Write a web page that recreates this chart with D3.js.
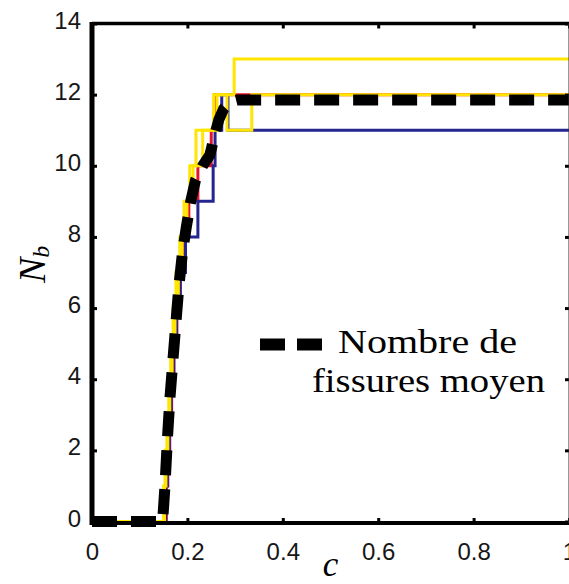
<!DOCTYPE html>
<html><head><meta charset="utf-8">
<script src="https://cdn.jsdelivr.net/npm/d3@7"></script>
<style>html,body{margin:0;padding:0;background:#fff;overflow:hidden}</style>
</head><body><svg id="chart" width="569" height="584"></svg>
<script>
// ---- data ----
const xTicks = [0, 0.2, 0.4, 0.6, 0.8, 1];
const xTickLabels = ["0", "0.2", "0.4", "0.6", "0.8", "1"];
const yTicks = [0, 2, 4, 6, 8, 10, 12, 14];
const yTickLabels = ["0", "2", "4", "6", "8", "10", "12", "14"];

// individual runs: step functions (value holds from c onward)
const redC = [0, 0.156, 0.159, 0.163, 0.167, 0.172, 0.178, 0.185, 0.193, 0.203, 0.222, 0.250, 0.258, 1];
const redN = [0, 1, 2, 3, 4, 5, 6, 7, 8, 9, 10, 11, 12, 12];
const blueC = [0, 0.154, 0.158, 0.162, 0.166, 0.171, 0.177, 0.185, 0.196, 0.222, 0.254, 0.258, 0.272, 0.285, 1];
const blueN = [0, 1, 2, 3, 4, 5, 6, 7, 8, 9, 10, 11, 12, 11, 11];
const yellowAC = [0, 0.150, 0.153, 0.157, 0.161, 0.165, 0.170, 0.176, 0.184, 0.193, 0.205, 0.218, 0.255, 0.298, 1];
const yellowAN = [0, 1, 2, 3, 4, 5, 6, 7, 8, 9, 10, 11, 12, 13, 13];
const yellowBC = [0, 0.152, 0.155, 0.159, 0.163, 0.168, 0.174, 0.181, 0.189, 0.199, 0.212, 0.232, 0.262, 0.283, 0.335, 1];
const yellowBN = [0, 1, 2, 3, 4, 5, 6, 7, 8, 9, 10, 11, 12, 11, 12, 12];

// mean number of cracks
const meanC = [0, 0.148, 0.153, 0.158, 0.163, 0.170, 0.176, 0.182, 0.190, 0.198, 0.207, 0.217, 0.232, 0.247, 0.256, 0.266, 0.276, 0.290, 0.305, 1];
const meanN = [0, 0, 1, 2.3, 3.4, 4.6, 5.6, 6.6, 7.6, 8.3, 9.0, 9.6, 10.0, 10.3, 10.8, 11.3, 11.6, 11.8, 11.85, 11.85];

const legendLines = ["Nombre de", "fissures moyen"];

// ---- drawing ----
const svg = d3.select("#chart");
const L = 92, R = 569, T = 23.5, B = 521.5;
const x = d3.scaleLinear().domain([0, 1]).range([L, R]);
const y = d3.scaleLinear().domain([0, 14]).range([B, T]);

const zip = (cs, ns) => cs.map((c, i) => [c, ns[i]]);
const stepLine = d3.line().x(d => x(d[0])).y(d => y(d[1])).curve(d3.curveStepAfter);
const lin = d3.line().x(d => x(d[0])).y(d => y(d[1]));

const runs = [
  {c: redC, n: redN, color: "#e8122d"},
  {c: blueC, n: blueN, color: "#25258f"},
  {c: yellowBC, n: yellowBN, color: "#ffe500"},
  {c: yellowAC, n: yellowAN, color: "#ffe500"}
];
runs.forEach(r => {
  svg.append("path").attr("d", stepLine(zip(r.c, r.n)))
    .attr("fill", "none").attr("stroke", r.color).attr("stroke-width", 3);
});

svg.append("path").attr("d", lin(zip(meanC, meanN)))
  .attr("fill", "none").attr("stroke", "#000").attr("stroke-width", 11)
  .attr("stroke-dasharray", "25,14").attr("stroke-linejoin", "miter");

// axes
const fontSans = "'Liberation Sans', Arial, sans-serif";
const xAxis = d3.axisBottom(x).tickValues(xTicks).tickFormat((d, i) => xTickLabels[i]).tickSize(-5).tickPadding(20);
const gx = svg.append("g").attr("transform", `translate(0,${B + 1.5})`).call(xAxis);
const xTop = d3.axisTop(x).tickValues(xTicks).tickFormat("").tickSize(-5);
const gxt = svg.append("g").attr("transform", `translate(0,${T})`).call(xTop);
const yAxis = d3.axisLeft(y).tickValues(yTicks).tickFormat((d, i) => yTickLabels[i]).tickSize(-5).tickPadding(11);
const gy = svg.append("g").attr("transform", `translate(${L},0)`).call(yAxis);
const yRight = d3.axisRight(y).tickValues(yTicks).tickFormat("").tickSize(-5);
const gyr = svg.append("g").attr("transform", `translate(${R + 1},0)`).call(yRight);

[gx, gxt, gy, gyr].forEach(g => {
  g.select(".domain").remove();
  g.selectAll(".tick line").attr("stroke", "#000").attr("stroke-width", 3);
  g.selectAll("text").attr("fill", "#161616").style("font-family", fontSans).style("font-size", "24px");
});
gy.selectAll("text").attr("dy", "0.19em");

// frame
svg.append("line").attr("x1", L).attr("x2", L).attr("y1", T - 1.5).attr("y2", B + 3.5).attr("stroke", "#000").attr("stroke-width", 5);
svg.append("line").attr("x1", L).attr("x2", R + 2).attr("y1", B + 1.5).attr("y2", B + 1.5).attr("stroke", "#000").attr("stroke-width", 4);
svg.append("line").attr("x1", L).attr("x2", R + 2).attr("y1", T).attr("y2", T).attr("stroke", "#000").attr("stroke-width", 3.5);
svg.append("line").attr("x1", R + 1).attr("x2", R + 1).attr("y1", T).attr("y2", B + 1.5).attr("stroke", "#333").attr("stroke-width", 3);

// axis titles
const serif = "'Liberation Serif', 'Times New Roman', serif";
const yl = svg.append("text").attr("transform", "translate(45,283) rotate(-90)")
  .style("font-family", serif).style("font-style", "italic").style("font-size", "38px").attr("fill", "#000");
yl.append("tspan").text("N");
yl.append("tspan").attr("dy", 4).style("font-size", "24px").text("b");

svg.append("text").attr("x", (L + R) / 2).attr("y", 576).attr("text-anchor", "middle")
  .style("font-family", serif).style("font-style", "italic").style("font-size", "35px").attr("fill", "#000").text("c");

// legend
svg.append("line").attr("x1", 260).attr("x2", 323).attr("y1", 344.5).attr("y2", 344.5)
  .attr("stroke", "#000").attr("stroke-width", 12).attr("stroke-dasharray", "25,12");
svg.append("text").attr("x", 338).attr("y", 353).attr("textLength", 179).attr("lengthAdjust", "spacingAndGlyphs")
  .style("font-family", serif).style("font-size", "34px").attr("fill", "#000").text(legendLines[0]);
svg.append("text").attr("x", 312).attr("y", 392).attr("textLength", 233).attr("lengthAdjust", "spacingAndGlyphs")
  .style("font-family", serif).style("font-size", "34px").attr("fill", "#000").text(legendLines[1]);
</script>
</body></html>
